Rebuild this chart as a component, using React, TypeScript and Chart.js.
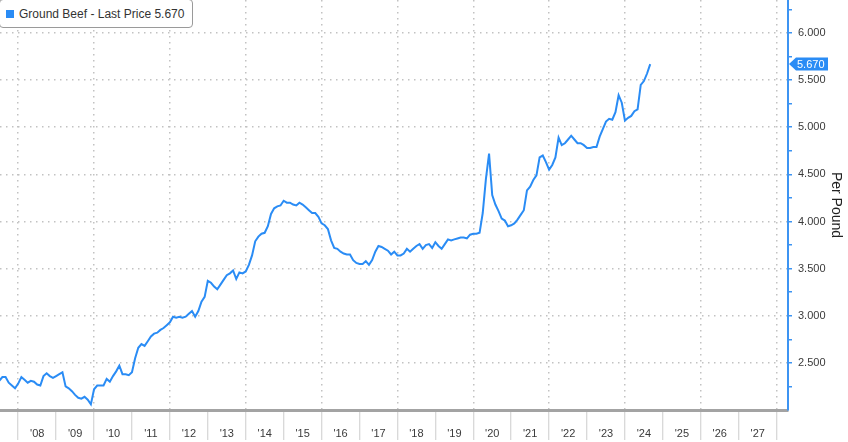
import React, { useEffect, useRef } from "react";
import { Chart, registerables } from "chart.js";

Chart.register(...registerables);

// ---- data ----
const seriesName = "Ground Beef";
const axisTitle = "Per Pound";
const startYear = 2007;
const startMonth = 7; // first monthly observation: July 2007

const prices = [
  2.31, 2.35, 2.35, 2.29, 2.26, 2.23, 2.28, 2.35, 2.32, 2.29, 2.31, 2.30,
  2.27, 2.26, 2.36, 2.39, 2.36, 2.34, 2.36, 2.38, 2.40, 2.25, 2.23, 2.20,
  2.16, 2.13, 2.12, 2.14, 2.11, 2.06, 2.22, 2.26, 2.26, 2.26, 2.33, 2.30,
  2.36, 2.41, 2.47, 2.38, 2.38, 2.37, 2.40, 2.55, 2.66, 2.70, 2.68, 2.73,
  2.78, 2.81, 2.82, 2.85, 2.87, 2.90, 2.93, 2.99, 2.98, 2.99, 2.98, 2.99,
  3.02, 3.05, 2.99, 3.05, 3.15, 3.20, 3.37, 3.35, 3.31, 3.28, 3.33, 3.38,
  3.43, 3.45, 3.48, 3.39, 3.46, 3.45, 3.47, 3.54, 3.64, 3.79, 3.84, 3.87,
  3.88, 3.95, 4.08, 4.14, 4.16, 4.17, 4.22, 4.20, 4.20, 4.18, 4.17, 4.20,
  4.18, 4.15, 4.12, 4.09, 4.09, 4.05, 3.98, 3.96, 3.92, 3.80, 3.72, 3.71,
  3.68, 3.66, 3.65, 3.65, 3.59, 3.56, 3.55, 3.55, 3.58, 3.54, 3.59, 3.68,
  3.74, 3.73, 3.71, 3.69, 3.65, 3.68, 3.64, 3.64, 3.66, 3.71, 3.68, 3.71,
  3.74, 3.76, 3.71, 3.75, 3.76, 3.72, 3.78, 3.74, 3.71, 3.76, 3.81, 3.80,
  3.81, 3.82, 3.83, 3.83, 3.82, 3.86, 3.87, 3.87, 3.88, 4.09, 4.45, 4.72,
  4.28, 4.18, 4.11, 4.03, 4.01, 3.95, 3.96, 3.98, 4.02, 4.07, 4.12, 4.33,
  4.37, 4.44, 4.49, 4.68, 4.70, 4.63, 4.55, 4.60, 4.68, 4.89, 4.81, 4.83,
  4.87, 4.91, 4.87, 4.83, 4.83, 4.81, 4.78, 4.78, 4.79, 4.79, 4.90, 4.98,
  5.06, 5.09, 5.08, 5.16, 5.34, 5.26, 5.07, 5.10, 5.12, 5.17, 5.19, 5.45,
  5.49, 5.57, 5.67,
];

const yearTicks = [
  2008, 2009, 2010, 2011, 2012, 2013, 2014, 2015, 2016, 2017,
  2018, 2019, 2020, 2021, 2022, 2023, 2024, 2025, 2026, 2027, 2028,
];
const yMajorTicks = [2.5, 3.0, 3.5, 4.0, 4.5, 5.0, 5.5, 6.0];
const yMinorTicks = [2.25, 2.75, 3.25, 3.75, 4.25, 4.75, 5.25, 5.75, 6.25];

const xMin = 2007.52;
const xMax = 2028.3;
const yMin = 2.0;
const yMax = 6.35;

// ---- styles ----
const LINE_BLUE = "#2a8cf5";
const AXIS_BLUE = "#3d94f2";
const GRID_GREY = "#c2c2c2";
const TEXT = "#3a3a3a";
const FONT = "'Liberation Sans', Arial, sans-serif";

const isMajorY = (v: number) => yMajorTicks.some((m) => Math.abs(m - v) < 1e-6);

const lastPriceTag = {
  id: "lastPriceTag",
  afterDraw(chart: any) {
    const y = chart.scales.y;
    const ctx = chart.ctx;
    const last = prices[prices.length - 1];
    const py = y.getPixelForValue(last);
    const x0 = y.left + 1;
    const h = 6.5;
    ctx.save();
    ctx.fillStyle = LINE_BLUE;
    ctx.beginPath();
    ctx.moveTo(x0, py);
    ctx.lineTo(x0 + 7, py - h);
    ctx.lineTo(x0 + 39, py - h);
    ctx.lineTo(x0 + 39, py + h);
    ctx.lineTo(x0 + 7, py + h);
    ctx.closePath();
    ctx.fill();
    ctx.fillStyle = "#ffffff";
    ctx.font = `11px ${FONT}`;
    ctx.textBaseline = "middle";
    ctx.textAlign = "left";
    ctx.fillText(last.toFixed(3), x0 + 8, py + 0.5);
    ctx.restore();
  },
};

export default function App() {
  const canvasRef = useRef<HTMLCanvasElement | null>(null);

  useEffect(() => {
    const canvas = canvasRef.current;
    if (!canvas) return;
    const points = prices.map((v, i) => ({
      x: startYear + (startMonth - 1 + i) / 12,
      y: v,
    }));

    const chart = new Chart(canvas, {
      type: "line",
      data: {
        datasets: [
          {
            label: seriesName,
            data: points,
            borderColor: LINE_BLUE,
            borderWidth: 2,
            pointRadius: 0,
            tension: 0,
            fill: false,
          },
        ],
      },
      options: {
        animation: false,
        responsive: false,
        events: [],
        layout: { padding: 0 },
        plugins: {
          legend: { display: false },
          tooltip: { enabled: false },
        },
        scales: {
          x: {
            type: "linear",
            position: "bottom",
            min: xMin,
            max: xMax,
            afterBuildTicks: (s: any) => {
              s.ticks = yearTicks.map((v) => ({ value: v }));
            },
            afterFit: (s: any) => {
              s.height = 32;
              s.paddingLeft = 0;
              s.paddingRight = 0;
            },
            grid: {
              color: (c: any) =>
                c.tick && c.tick.value % 2 === 0 ? GRID_GREY : "rgba(0,0,0,0)",
              lineWidth: 1.5,
              tickColor: "#cccccc",
              tickLength: 30,
              tickWidth: 1,
            },
            border: { display: true, color: "#a3a3a3", width: 3, dash: [1.5, 4.5] },
            ticks: {
              autoSkip: false,
              maxRotation: 0,
              minRotation: 0,
              padding: -13,
              labelOffset: 19,
              color: TEXT,
              font: { family: FONT, size: 11 },
              callback: (v: any) =>
                Number(v) < 2028 ? "'" + String(Number(v) % 100).padStart(2, "0") : "",
            },
          },
          y: {
            type: "linear",
            position: "right",
            min: yMin,
            max: yMax,
            afterBuildTicks: (s: any) => {
              s.ticks = [...yMajorTicks, ...yMinorTicks]
                .sort((a, b) => a - b)
                .map((v) => ({ value: v }));
            },
            afterFit: (s: any) => {
              s.width = 60;
              s.paddingTop = 0;
              s.paddingBottom = 0;
            },
            grid: {
              color: (c: any) =>
                c.tick && isMajorY(c.tick.value) ? GRID_GREY : "rgba(0,0,0,0)",
              lineWidth: 1.5,
              tickColor: AXIS_BLUE,
              tickLength: 4,
              tickWidth: 1.5,
            },
            border: { display: true, color: AXIS_BLUE, width: 2, dash: [1.5, 4.5] },
            ticks: {
              padding: 6,
              color: TEXT,
              font: { family: FONT, size: 11 },
              callback: (v: any) => (isMajorY(Number(v)) ? Number(v).toFixed(3) : ""),
            },
            title: {
              display: true,
              text: axisTitle,
              color: "#222",
              font: { family: FONT, size: 14 },
              padding: { top: 4, bottom: 2 },
            },
          },
        },
      },
      plugins: [lastPriceTag],
    } as any);

    return () => chart.destroy();
  }, []);

  const last = prices[prices.length - 1];

  return (
    <div
      style={{
        position: "absolute",
        left: 0,
        top: 0,
        width: 848,
        height: 442,
        background: "#ffffff",
        overflow: "hidden",
      }}
    >
      <canvas ref={canvasRef} width={848} height={442} style={{ display: "block" }} />
      <div
        style={{
          position: "absolute",
          left: -1,
          top: -1,
          height: 27,
          paddingLeft: 6,
          paddingRight: 8,
          display: "flex",
          alignItems: "center",
          background: "#ffffff",
          border: "1px solid #9a9a9a",
          borderRadius: 4,
          fontFamily: FONT,
          fontSize: 12,
          color: "#333",
          whiteSpace: "nowrap",
        }}
      >
        <span
          style={{
            display: "inline-block",
            width: 8,
            height: 8,
            background: LINE_BLUE,
            marginRight: 5,
          }}
        />
        <span>{`${seriesName} - Last Price ${last.toFixed(3)}`}</span>
      </div>
    </div>
  );
}
